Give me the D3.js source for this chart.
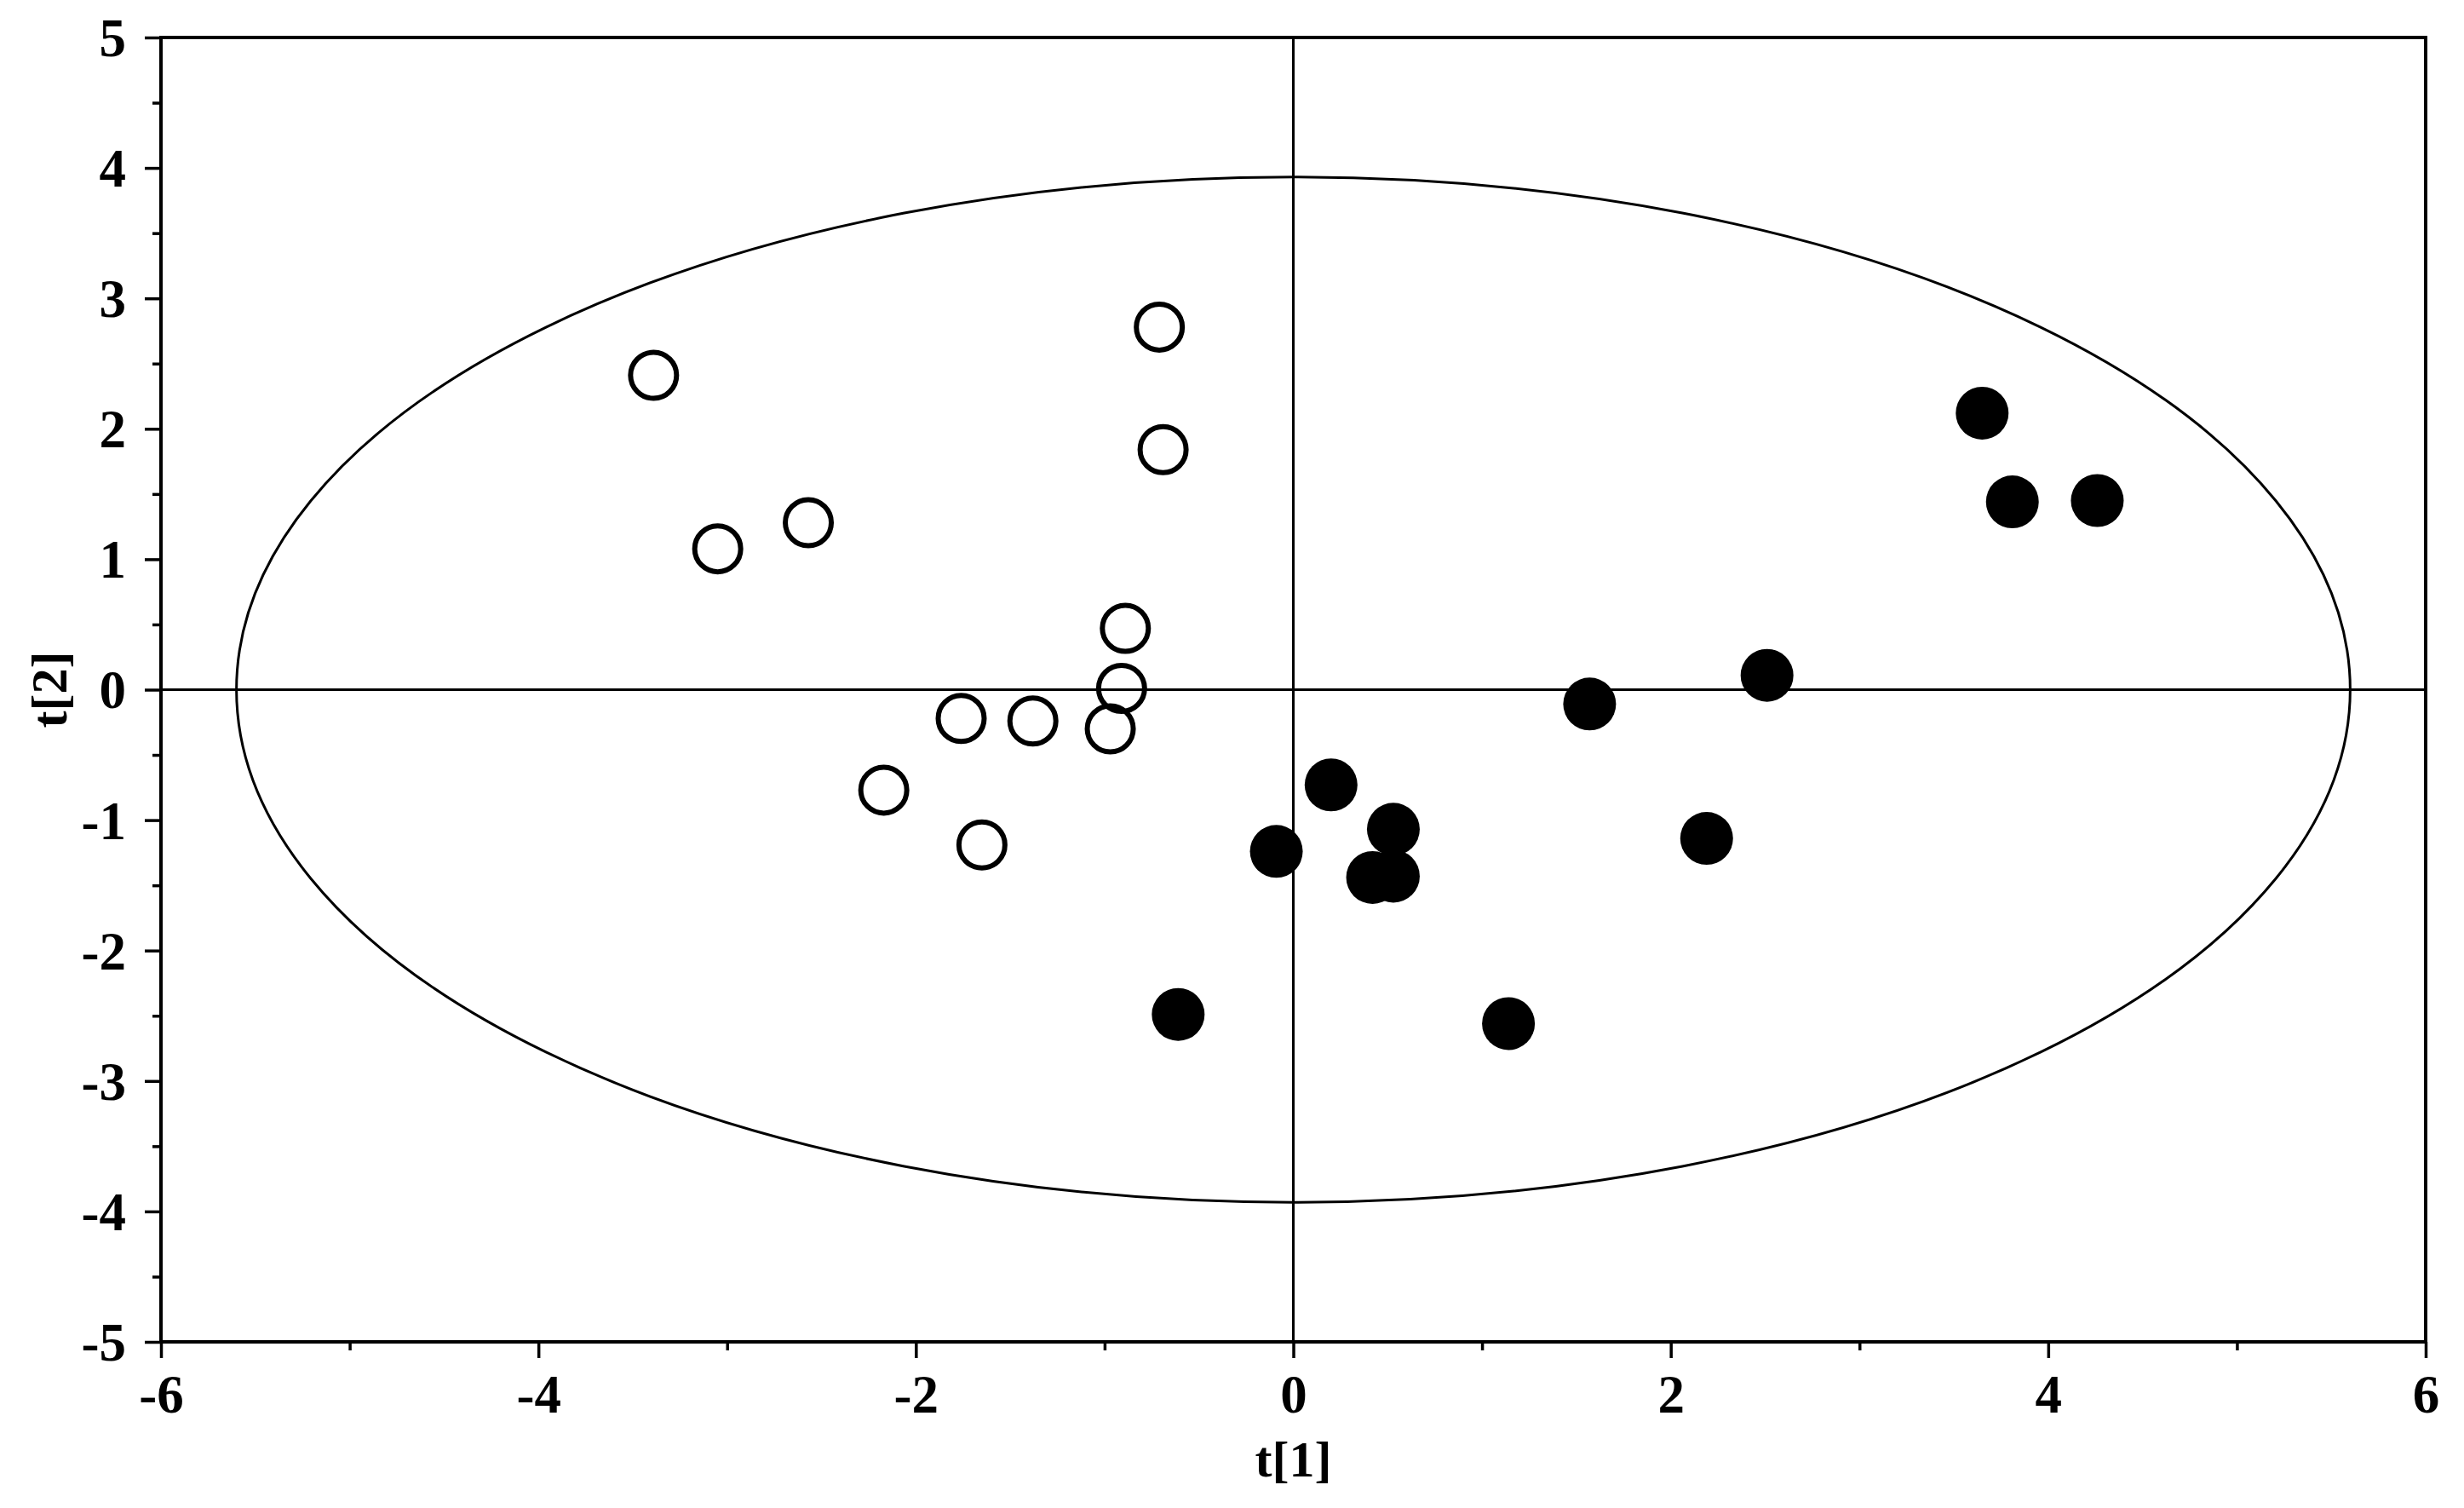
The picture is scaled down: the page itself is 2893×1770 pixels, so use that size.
<!DOCTYPE html>
<html>
<head>
<meta charset="utf-8">
<script src="https://cdn.jsdelivr.net/npm/d3@7"></script>
<style>
  html, body { margin: 0; padding: 0; background: #fff; }
  svg { display: block; }
  text { font-family: "Liberation Serif", "Times New Roman", Tinos, serif; font-weight: bold; fill: #000; }
</style>
</head>
<body>
<svg id="chart" width="2893" height="1770"></svg>
<script>
// ---- data ----
const openX   = [-3.39, -0.71, -0.69, -3.05, -2.57, -0.89, -0.91, -1.76, -1.38, -0.97, -2.17, -1.65];
const openY   = [ 2.41,  2.78,  1.84,  1.08,  1.28,  0.47,  0.01, -0.22, -0.24, -0.30, -0.77, -1.19];
const filledX = [ 1.57,  2.51,  0.20,  0.53, -0.09,  0.42,  0.53,  2.19, -0.61,  1.14,  3.65,  3.81,  4.26];
const filledY = [-0.11,  0.11, -0.73, -1.07, -1.24, -1.44, -1.43, -1.14, -2.49, -2.56,  2.12,  1.44,  1.45];
const xMajorTicks = [-6, -4, -2, 0, 2, 4, 6];
const xMinorTicks = [-5, -3, -1, 1, 3, 5];
const yMajorTicks = [-5, -4, -3, -2, -1, 0, 1, 2, 3, 4, 5];
const yMinorTicks = [-4.5, -3.5, -2.5, -1.5, -0.5, 0.5, 1.5, 2.5, 3.5, 4.5];
const ellipseRadii = [5.6, 3.93];   // Hotelling T2 ellipse semi-axes
const xTitle = "t[1]";
const yTitle = "t[2]";

// ---- layout ----
const FONT = '"Liberation Serif", "Times New Roman", Tinos, serif';
const L = 189, R = 2848, T = 44, B = 1575;
const svg = d3.select("#chart");
const x = d3.scaleLinear().domain([-6, 6]).range([L, R]);
const y = d3.scaleLinear().domain([-5, 5]).range([B, T]);

// ellipse
svg.append("ellipse")
  .attr("cx", x(0)).attr("cy", y(0))
  .attr("rx", x(ellipseRadii[0]) - x(0))
  .attr("ry", y(0) - y(ellipseRadii[1]))
  .attr("fill", "none").attr("stroke", "#000").attr("stroke-width", 3);

// zero lines
svg.append("line").attr("x1", x(0)).attr("x2", x(0)).attr("y1", T).attr("y2", B)
  .attr("stroke", "#000").attr("stroke-width", 3);
svg.append("line").attr("x1", L).attr("x2", R).attr("y1", y(0)).attr("y2", y(0))
  .attr("stroke", "#000").attr("stroke-width", 3);

// axes (plain hyphen-minus as in the reference)
const fmt = d => String(d);
const gx = svg.append("g").attr("transform", `translate(0,${B})`)
  .call(d3.axisBottom(x).tickValues(xMajorTicks).tickSize(19).tickSizeOuter(0).tickPadding(19).tickFormat(fmt));
const gxm = svg.append("g").attr("transform", `translate(0,${B})`)
  .call(d3.axisBottom(x).tickValues(xMinorTicks).tickSize(10).tickSizeOuter(0).tickFormat(""));
const gy = svg.append("g").attr("transform", `translate(${L},0)`)
  .call(d3.axisLeft(y).tickValues(yMajorTicks).tickSize(19).tickSizeOuter(0).tickPadding(22).tickFormat(fmt));
const gym = svg.append("g").attr("transform", `translate(${L},0)`)
  .call(d3.axisLeft(y).tickValues(yMinorTicks).tickSize(10).tickSizeOuter(0).tickFormat(""));
[gx, gxm, gy, gym].forEach(g => {
  g.attr("font-family", FONT).attr("font-size", 63);
  g.select(".domain").remove();
  g.selectAll(".tick line").attr("stroke", "#000").attr("stroke-width", 3.5);
  g.selectAll(".tick text").style("font-size", "63px")
    .style("font-family", FONT)
    .style("font-weight", "bold").attr("fill", "#000");
});
gy.selectAll(".tick text").attr("dy", "0.34em");

// frame
svg.append("rect").attr("x", L).attr("y", T).attr("width", R - L).attr("height", B - T)
  .attr("fill", "none").attr("stroke", "#000").attr("stroke-width", 4);

// points
const openPts = openX.map((v, i) => ({x: v, y: openY[i]}));
const filledPts = filledX.map((v, i) => ({x: v, y: filledY[i]}));
svg.append("g").selectAll("circle").data(openPts).join("circle")
  .attr("cx", d => x(d.x)).attr("cy", d => y(d.y)).attr("r", 27)
  .attr("fill", "none").attr("stroke", "#000").attr("stroke-width", 6);
svg.append("g").selectAll("circle").data(filledPts).join("circle")
  .attr("cx", d => x(d.x)).attr("cy", d => y(d.y)).attr("r", 31)
  .attr("fill", "#000");

// axis titles
svg.append("text").attr("x", x(0)).attr("y", 1733).attr("text-anchor", "middle")
  .style("font-size", "60px").text(xTitle);
svg.append("text").attr("transform", `translate(78,${y(0)}) rotate(-90)`).attr("text-anchor", "middle")
  .style("font-size", "60px").text(yTitle);
</script>
</body>
</html>
